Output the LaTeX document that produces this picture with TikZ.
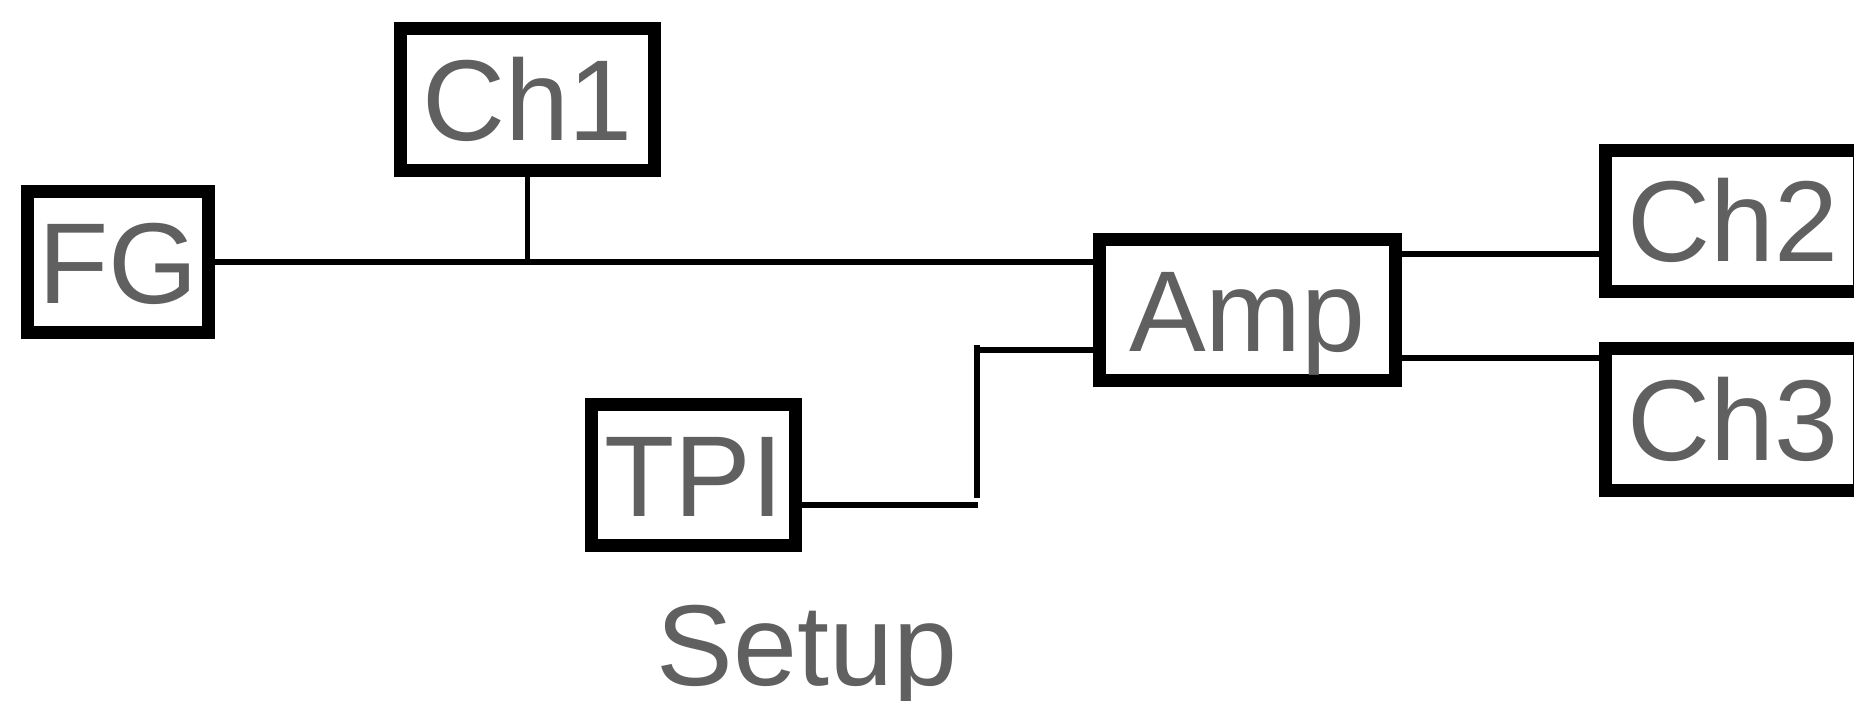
\documentclass[tikz,border=0pt]{standalone}
\usepackage{fontspec}
\setmainfont{Liberation Sans}
\definecolor{txt}{HTML}{606060}
\begin{document}
\begin{tikzpicture}[x=0.5pt,y=-0.5pt,
  lbl/.style={text=txt, font=\fontsize{57.5}{60}\selectfont},
  box/.style={lbl, draw=black, line width=6.5pt, fill=white, minimum height=70.75pt,
    inner sep=0pt, text height=41.2pt, text depth=0pt},
  wire/.style={draw=black, line width=2.6pt}]
\clip (0,0) rectangle (1854,701);
\fill[white] (0,0) rectangle (1854,701);
% boxes
\node[box, minimum width=90.8pt]  (fg)  at (118,262)    {FG};
\node[box, minimum width=127pt]   (ch1) at (527.5,99.7) {Ch1};
\node[box, minimum width=148.3pt] (amp) at (1247.5,310) {Amp};
\node[box, minimum width=102pt]   (tpi) at (693.5,475)  {TPI};
\node[box, minimum width=127pt]   (ch2) at (1732.8,220.8) {Ch2};
\node[box, minimum width=127pt]   (ch3) at (1732.8,419.5) {Ch3};
% connectors
\draw[wire] (fg.east) -- (fg.east -| amp.west);
\draw[wire] (ch1.south) -- (ch1.south |- fg.east);
\coordinate (o2) at ([yshift=-16.6pt]ch2.west);
\draw[wire] (amp.east |- o2) -- (o2);
\coordinate (o3) at ([yshift=30.8pt]ch3.west);
\draw[wire] (amp.east |- o3) -- (o3);
\coordinate (tin) at ([yshift=-20pt]amp.west);
\coordinate (jt) at (977,345);
\coordinate (jb) at (977,498);
\draw[wire] (jt) -- (jb);
\draw[wire] (jt |- tin) -- (tin);
\coordinate (tout) at ([yshift=-15pt]tpi.east);
\draw[wire] (tout) -- ([xshift=0.6pt]jb |- tout);
% caption
\node[lbl, anchor=base, inner sep=0pt] (cap) at (807,685) {Setup};
\end{tikzpicture}
\end{document}
